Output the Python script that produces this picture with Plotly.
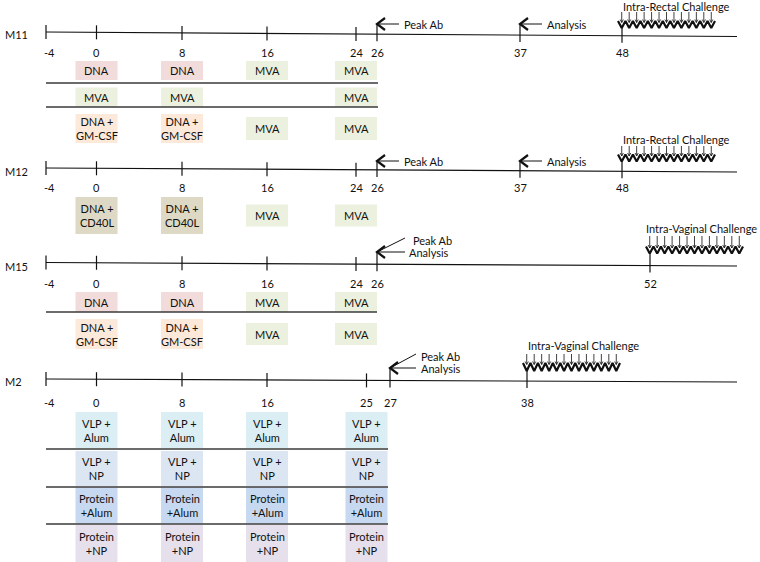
import numpy as np
import plotly.graph_objects as go

# ---------------- data ----------------
studies = ["M11", "M12", "M15", "M2"]

m11_ticks = [-4, 0, 8, 16, 24, 26, 37, 48]
m12_ticks = [-4, 0, 8, 16, 24, 26, 37, 48]
m15_ticks = [-4, 0, 8, 16, 24, 26, 52]
m2_ticks = [-4, 0, 8, 16, 25, 27, 38]

m11_vacc_weeks = [0, 8, 16, 24]
m12_vacc_weeks = [0, 8, 16, 24]
m15_vacc_weeks = [0, 8, 16, 24]
m2_vacc_weeks = [0, 8, 16, 25]

m11_groups = [
    ["DNA", "DNA", "MVA", "MVA"],
    ["MVA", "MVA", "", "MVA"],
    ["DNA +<br>GM-CSF", "DNA +<br>GM-CSF", "MVA", "MVA"],
]
m12_groups = [
    ["DNA +<br>CD40L", "DNA +<br>CD40L", "MVA", "MVA"],
]
m15_groups = [
    ["DNA", "DNA", "MVA", "MVA"],
    ["DNA +<br>GM-CSF", "DNA +<br>GM-CSF", "MVA", "MVA"],
]
m2_groups = [
    ["VLP +<br>Alum", "VLP +<br>Alum", "VLP +<br>Alum", "VLP +<br>Alum"],
    ["VLP +<br>NP", "VLP +<br>NP", "VLP +<br>NP", "VLP +<br>NP"],
    ["Protein<br>+Alum", "Protein<br>+Alum", "Protein<br>+Alum", "Protein<br>+Alum"],
    ["Protein<br>+NP", "Protein<br>+NP", "Protein<br>+NP", "Protein<br>+NP"],
]

m11_events = [(26, ["Peak Ab"]), (37, ["Analysis"])]
m12_events = [(26, ["Peak Ab"]), (37, ["Analysis"])]
m15_events = [(26, ["Peak Ab", "Analysis"])]
m2_events = [(27, ["Peak Ab", "Analysis"])]

m11_challenge = (48, "Intra-Rectal Challenge")
m12_challenge = (48, "Intra-Rectal Challenge")
m15_challenge = (52, "Intra-Vaginal Challenge")
m2_challenge = (38, "Intra-Vaginal Challenge")

study_data = {
    "M11": (m11_ticks, m11_vacc_weeks, m11_groups, m11_events, m11_challenge),
    "M12": (m12_ticks, m12_vacc_weeks, m12_groups, m12_events, m12_challenge),
    "M15": (m15_ticks, m15_vacc_weeks, m15_groups, m15_events, m15_challenge),
    "M2": (m2_ticks, m2_vacc_weeks, m2_groups, m2_events, m2_challenge),
}

# ---------------- styles / layout ----------------
W, H = 760, 562
FONT = "Lato, Carlito, Calibri, sans-serif"
TXT = "#111111"
FS = 11

FILL = {
    "DNA": "#f2dcdb",
    "MVA": "#ebf1de",
    "DNA +<br>GM-CSF": "#fde9d9",
    "DNA +<br>CD40L": "#ddd9c4",
    "VLP +<br>Alum": "#dbeef4",
    "VLP +<br>NP": "#dce6f2",
    "Protein<br>+Alum": "#c6d9f1",
    "Protein<br>+NP": "#e5e0ec",
}

X_START, X_END = 46, 737
WEEK_ANCHORS = [-4, 0, 8, 16, 24, 26, 37, 38, 48, 52]
PX_ANCHORS = [46, 96.5, 182, 267, 356, 377, 520, 527, 622, 650]


def wx(week):
    return float(np.interp(week, WEEK_ANCHORS, PX_ANCHORS))


BOX_W = 42

LAY = {
    "M11": dict(yl=32, yr=36.5, label_y=34, tlab_y=52, ev_y=24, ev_dy=12,
                ch_y=6, zig=(21, 28), arr_top=12,
                rows=[(70.5, 19, 29), (97, 19, 29), (128.5, 23, 29)],
                seps=[83, 107], sep_x1=378),
    "M12": dict(yl=168, yr=172, label_y=171, tlab_y=187, ev_y=161, ev_dy=12,
                ch_y=139, zig=(154.5, 161.5), arr_top=146,
                rows=[(215.5, 22, 37)], seps=[], sep_x1=378),
    "M15": dict(yl=262.5, yr=266, label_y=266, tlab_y=283, ev_y=252, ev_dy=12,
                ch_y=228, zig=(246.5, 253.5), arr_top=236,
                rows=[(302, 20, 30), (334, 22, 30)], seps=[312], sep_x1=377),
    "M2": dict(yl=379, yr=382, label_y=381, tlab_y=402, ev_y=368, ev_dy=12,
               ch_y=345, zig=(363, 371), arr_top=354,
               rows=[(430, 36, 36), (468.5, 35, 35), (505.5, 36, 36), (543.5, 37, 37)],
               seps=[449, 487, 524], sep_x1=388),
}

fig = go.Figure()
shapes = []
annots = []
thick_x, thick_y = [], []   # zigzags and chevrons
thin_x, thin_y = [], []     # small challenge arrows


def line(x0, y0, x1, y1, color="#111", width=1.2):
    shapes.append(dict(type="line", x0=x0, y0=y0, x1=x1, y1=y1,
                       xref="x", yref="y", line=dict(color=color, width=width)))


def text(x, y, s, xanchor="center", size=FS):
    annots.append(dict(x=x, y=y, text=s, showarrow=False, xref="x", yref="y",
                       xanchor=xanchor, yanchor="middle",
                       font=dict(family=FONT, size=size, color=TXT)))


for st in studies:
    ticks, vweeks, groups, events, challenge = study_data[st]
    L = LAY[st]

    def ly(x, L=L):
        return L["yl"] + (L["yr"] - L["yl"]) * (x - X_START) / (X_END - X_START)

    # study label
    text(3, L["label_y"], st, xanchor="left")
    # timeline
    line(X_START, L["yl"], X_END, L["yr"], width=1.2)

    ev_weeks = {w for w, _ in events}
    ch_week, ch_label = challenge
    for w in ticks:
        x = wx(w)
        if w in ev_weeks:
            top = L["ev_y"]
        elif w == ch_week:
            top = L["zig"][1]
        else:
            top = ly(x) - 7
        line(x, top, x, ly(x) + 7, width=1.2)
        text(x + (3 if w < 0 else 0), L["tlab_y"], str(w))

    # events (Peak Ab / Analysis)
    for w, labels in events:
        tx = wx(w)
        ty = L["ev_y"]
        thick_x.extend([tx + 8, tx, tx + 8, None])
        thick_y.extend([ty - 6, ty, ty + 6, None])
        if len(labels) == 1:
            line(tx, ty, tx + 22, ty, width=1)
            text(tx + 25, ty, labels[0], xanchor="left")
        else:
            ln = 28 if st == "M15" else 26
            line(tx, ty, tx + ln, ty - 14, width=1)
            line(tx, ty, tx + ln, ty, width=1)
            text(tx + ln + (6 if st == "M15" else 3), ty - L["ev_dy"], labels[0], xanchor="left")
            text(tx + ln + (2 if st == "M15" else 3), ty, labels[1], xanchor="left")

    # challenge zigzag
    cx = wx(ch_week)
    z0, z1 = cx - 4, cx - 4 + 97
    n = 13
    p = (z1 - z0) / (2 * n)
    zt, zb = L["zig"]
    for i in range(2 * n + 1):
        thick_x.append(z0 + i * p)
        thick_y.append(zt if i % 2 == 0 else zb)
    thick_x.append(None)
    thick_y.append(None)
    for i in range(n):
        ax = z0 + (2 * i + 1) * p
        ay = zt + 1.5
        thin_x.extend([ax, ax, None, ax - 1.6, ax, ax + 1.6, None])
        thin_y.extend([L["arr_top"], ay, None, ay - 3, ay, ay - 3, None])
    if st == "M15":
        text(759, L["ch_y"], ch_label, xanchor="right")
    else:
        text(cx - 1, L["ch_y"], ch_label, xanchor="left")

    # vaccination boxes
    for r, row in enumerate(groups):
        cy, h1, h2 = L["rows"][r]
        for w, lab in zip(vweeks, row):
            if not lab:
                continue
            bx = wx(w)
            h = h2 if "<br>" in lab else h1
            shapes.append(dict(type="rect", xref="x", yref="y",
                               x0=bx - BOX_W / 2, x1=bx + BOX_W / 2,
                               y0=cy - h / 2, y1=cy + h / 2,
                               fillcolor=FILL[lab], line=dict(width=0), layer="below"))
            text(bx, cy, lab)
    for sy in L["seps"]:
        line(X_START, sy, L["sep_x1"], sy, color="#3a3a3a", width=1.5)

fig.add_trace(go.Scatter(x=thick_x, y=thick_y, mode="lines",
                         line=dict(color="#111", width=2.2),
                         hoverinfo="skip", showlegend=False))
fig.add_trace(go.Scatter(x=thin_x, y=thin_y, mode="lines",
                         line=dict(color="#111", width=0.8),
                         hoverinfo="skip", showlegend=False))

fig.update_layout(
    width=W, height=H,
    margin=dict(l=0, r=0, t=0, b=0),
    paper_bgcolor="white", plot_bgcolor="white",
    shapes=shapes, annotations=annots,
    xaxis=dict(range=[0, W], visible=False, fixedrange=True),
    yaxis=dict(range=[H, 0], visible=False, fixedrange=True),
    showlegend=False,
)

fig.write_html(
    "out.html",
    config={"displayModeBar": False},
    post_script="document.body.style.margin='0';document.body.style.overflow='hidden';",
)
